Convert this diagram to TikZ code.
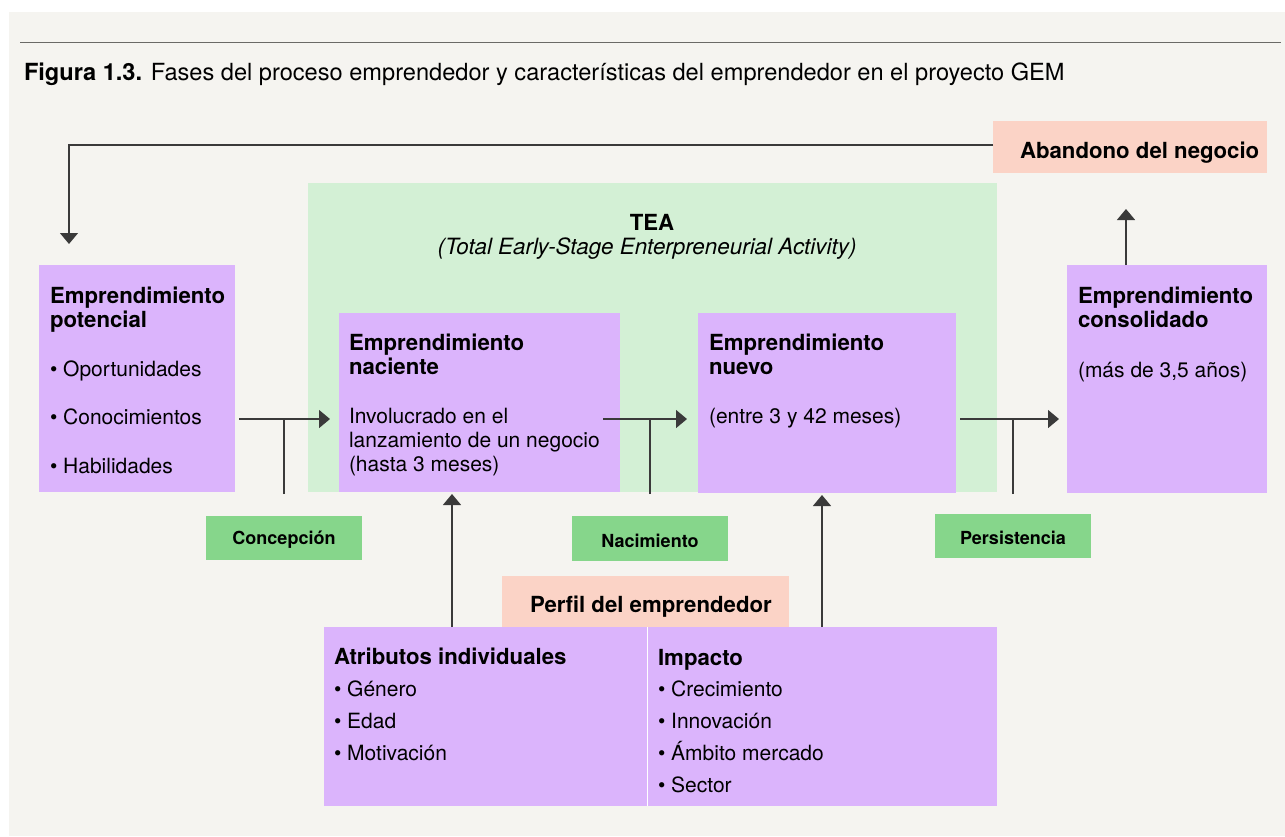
\documentclass[tikz,border=0pt]{standalone}
\usepackage{fontspec}
\setmainfont{TeX Gyre Heros}
\usetikzlibrary{arrows.meta,calc}
\definecolor{bgpanel}{HTML}{F5F4F0}
\definecolor{purp}{HTML}{DBB4FC}
\definecolor{ltgreen}{HTML}{D3F0D5}
\definecolor{midgreen}{HTML}{86D68B}
\definecolor{salmon}{HTML}{FBD3C6}
\definecolor{linegray}{HTML}{3A3A3A}
\definecolor{rulegray}{HTML}{6A6A66}
\newcommand\hdb[1]{{\fontsize{22.2}{24}\selectfont\bfseries #1}}
\begin{document}
\begin{tikzpicture}[x=1pt,y=-1pt,
  boxbase/.style={draw=none, inner sep=0pt, outer sep=0pt, anchor=north west},
  purpbox/.style={boxbase, fill=purp},
  greenbox/.style={boxbase, fill=midgreen},
  salmonbox/.style={boxbase, fill=salmon},
  txt/.style={inner sep=0pt, outer sep=0pt, anchor=base west, align=left, font=\fontsize{21}{24}\selectfont},
  boldtxt/.style={txt, font=\fontsize{22.2}{24}\selectfont\bfseries},
  smalllabel/.style={inner sep=0pt, yshift=-2pt, font=\fontsize{18}{20}\selectfont\bfseries},
  ln/.style={draw=linegray, line width=1.4pt},
  arr/.style={ln, -{Triangle[length=11pt,width=18pt]}}]
\useasboundingbox (0,0) rectangle (1285,836);
\fill[white] (0,0) rectangle (1285,836);
\fill[bgpanel] (9,12) rectangle (1285,836);
\draw[rulegray, line width=1.6pt] (20,42.5) -- (1281,42.5);
\node[txt, font=\fontsize{23.6}{26}\selectfont] (title) at (24,80) {\textbf{Figura 1.3.} Fases del proceso emprendedor y características del emprendedor en el proyecto GEM};

% boxes
\node[boxbase, fill=ltgreen, minimum width=689pt, minimum height=309pt] (tea) at (308,183) {};
\node[purpbox, minimum width=196pt, minimum height=227pt] (pot) at (39,265) {};
\node[purpbox, minimum width=281pt, minimum height=179pt] (nac) at (339,313) {};
\node[purpbox, minimum width=258pt, minimum height=180pt] (nue) at (698,313) {};
\node[purpbox, minimum width=200pt, minimum height=228pt] (con) at (1067,265) {};
\node[salmonbox, minimum width=274pt, minimum height=52pt] (aban) at (993,121) {};
\node[greenbox, minimum width=156pt, minimum height=44pt] (concep) at (206,516) {};
\node[greenbox, minimum width=156pt, minimum height=45pt] (nacim) at (572,516) {};
\node[greenbox, minimum width=156pt, minimum height=44pt] (pers) at (935,514) {};
\node[salmonbox, minimum width=287pt, minimum height=52pt] (perfil) at (502,576) {};
\node[purpbox, minimum width=323pt, minimum height=179pt] (attr) at (324,627) {};
\node[purpbox, minimum width=350pt, minimum height=179pt] (imp) at (647,627) {};
\draw[white, line width=1pt] (attr.north east) -- (attr.south east);

% texts (multi-line nodes are placed by the baseline of their last line)
\node[boldtxt] (abantxt) at (1020,158) {Abandono del negocio};
\node[boldtxt, anchor=base] (teatxt) at (652,230) {TEA};
\node[txt, anchor=base, font=\fontsize{22.4}{24}\selectfont\itshape] (teasub) at (647,254) {(Total Early-Stage Enterpreneurial Activity)};
\node[txt] (pottxt) at (50,473) {\hdb{Emprendimiento}\\\hdb{potencial}\\[25pt]• Oportunidades\\[24pt]• Conocimientos\\[25pt]• Habilidades};
\node[txt] (nactxt) at (349,471) {\hdb{Emprendimiento}\\\hdb{naciente}\\[25pt]Involucrado en el\\lanzamiento de un negocio\\(hasta 3 meses)};
\node[txt] (nuetxt) at (709,423) {\hdb{Emprendimiento}\\\hdb{nuevo}\\[25pt](entre 3 y 42 meses)};
\node[txt] (contxt) at (1078,377) {\hdb{Emprendimiento}\\\hdb{consolidado}\\[26pt](más de 3,5 años)};
\node[smalllabel] (concepl) at (concep.center) {Concepción};
\node[smalllabel] (nacimtxt) at (nacim.center) {Nacimiento};
\node[smalllabel] (perstxt) at (pers.center) {Persistencia};
\node[boldtxt] (perfiltxt) at (530,612) {Perfil del emprendedor};
\node[txt, font=\fontsize{21}{31.7}\selectfont] (attrtxt) at (334,760) {\hdb{Atributos individuales}\\• Género\\• Edad\\• Motivación};
\node[txt, font=\fontsize{21}{31.7}\selectfont] (imptxt) at (658,792) {\hdb{Impacto}\\• Crecimiento\\• Innovación\\• Ámbito mercado\\• Sector};

% connectors
\draw[arr] ([yshift=2pt]aban.west) -| ($(pot.north west)+(30,-21)$);
\draw[arr] ($(con.north west)+(59,0)$) -- ($(con.north west)+(59,-56)$);

\coordinate (a1s) at ($(pot.north east)+(4,154)$);
\coordinate (a1e) at ($(nac.north west)+(-9,106)$);
\draw[arr] (a1s) -- (a1e);
\draw[ln] ([yshift=22pt]concep.north) -- (concep.north |- a1s);

\coordinate (a2s) at ($(nac.north east)+(-17,106)$);
\coordinate (a2e) at ($(nue.north west)+(-11,106)$);
\draw[arr] (a2s) -- (a2e);
\draw[ln] ([yshift=22pt]nacim.north) -- (nacim.north |- a2s);

\coordinate (a3s) at ($(nue.north east)+(4,106)$);
\coordinate (a3e) at ($(con.north west)+(-8,154)$);
\draw[arr] (a3s) -- (a3e);
\draw[ln] ([yshift=20pt]pers.north) -- (pers.north |- a3s);

\coordinate (v1) at ($(attr.north west)+(128,0)$);
\draw[arr] (v1) -- ([yshift=-2pt]nac.south -| v1);
\coordinate (v2) at ($(imp.north west)+(175,0)$);
\draw[arr] (v2) -- ([yshift=-2pt]nue.south -| v2);
\end{tikzpicture}
\end{document}
